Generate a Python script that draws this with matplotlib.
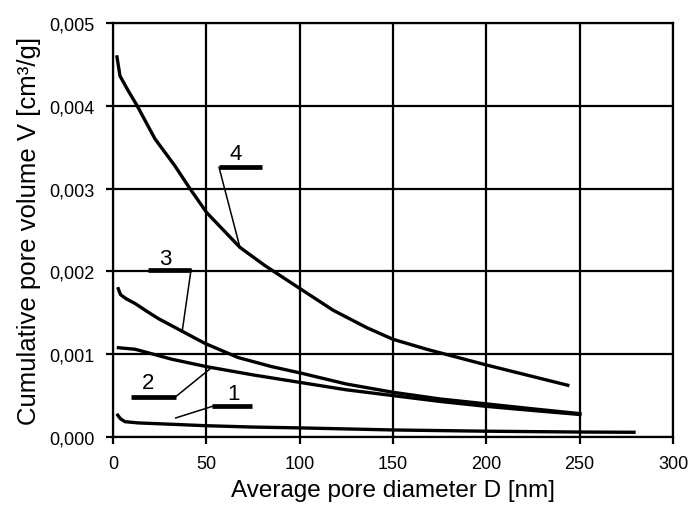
import matplotlib
matplotlib.use("Agg")
import matplotlib.pyplot as plt
from matplotlib.ticker import FuncFormatter, MultipleLocator

plt.rcParams['font.family'] = ['Liberation Sans', 'DejaVu Sans']

# Curve 1
D1 = [2, 4, 6.4, 13.6, 30, 49, 75, 100, 150, 200, 250, 280]
V1 = [0.00028, 0.00022, 0.000185, 0.00017, 0.000155, 0.000137, 0.00012, 0.00011, 0.000085, 0.00007, 0.00006, 0.000057]
# Curve 2
D2 = [2, 11.8, 31.4, 50, 75, 100, 125, 150, 175, 200, 225, 251]
V2 = [0.00108, 0.00106, 0.00094, 0.00085, 0.00075, 0.00066, 0.00057, 0.0005, 0.00043, 0.00037, 0.00032, 0.00027]
# Curve 3
D3 = [2.5, 4, 7, 12, 18, 24.3, 36.8, 49.3, 67, 85, 101, 125, 150, 175, 200, 225, 251]
V3 = [0.00181, 0.00172, 0.00167, 0.00161, 0.00152, 0.00143, 0.00128, 0.00113, 0.00096, 0.00085, 0.00077, 0.00064, 0.00054, 0.00046, 0.0004, 0.00034, 0.00028]
# Curve 4
D4 = [2, 3.75, 8.2, 12.7, 22.5, 33, 41.2, 50.2, 68, 81.4, 101, 118, 136, 150, 168, 200, 244.5]
V4 = [0.00461, 0.00436, 0.00418, 0.00401, 0.0036, 0.00328, 0.0030, 0.00271, 0.00229, 0.00207, 0.00178, 0.00153, 0.00132, 0.00118, 0.00106, 0.00087, 0.00062]

labels = ['1', '2', '3', '4']
# label annotation geometry: (text D, text V, bar D start, bar D end, bar V, leader from D, leader to D, leader to V)
ann = {
    '4': (65.8, 0.00342, 56.8, 80.0, 0.003257, 56.8, 68.0, 0.00229),
    '3': (27.9, 0.00216, 18.9, 41.8, 0.00202, 41.8, 37.1, 0.00128),
    '2': (18.8, 0.00066, 9.6, 33.6, 0.000487, 33.6, 52.9, 0.00084),
    '1': (64.5, 0.000523, 53.2, 74.6, 0.00037, 53.2, 33.6, 0.00023),
}

fig = plt.figure(figsize=(6.88, 5.10), dpi=100)
ax = fig.add_axes([113/688, 1-438/510, 560/688, 414/510])

for D, V in [(D1, V1), (D2, V2), (D3, V3), (D4, V4)]:
    ax.plot(D, V, color='black', lw=2.4, solid_capstyle='butt', zorder=3)

for lab in labels:
    tx, ty, b0, b1, by, lx0, lx1, ly1 = ann[lab]
    ax.text(tx, ty, lab, fontsize=16, ha='center', va='center', zorder=4)
    ax.plot([b0, b1], [by, by], color='black', lw=3.4, solid_capstyle='butt', zorder=4)
    ax.plot([lx0, lx1], [by, ly1], color='black', lw=1.1, zorder=4)

ax.set_xlim(0, 300)
ax.set_ylim(0, 0.005)
ax.xaxis.set_major_locator(MultipleLocator(50))
ax.yaxis.set_major_locator(MultipleLocator(0.001))
ax.yaxis.set_major_formatter(FuncFormatter(lambda v, p: f"{v:.3f}".replace('.', ',')))
ax.grid(True, color='black', lw=1.6)
ax.set_axisbelow(True)
for s in ax.spines.values():
    s.set_linewidth(1.6)
    s.set_color('black')
ax.tick_params(direction='out', length=5, width=1.6, labelsize=13, pad=8)

ax.set_xlabel('Average pore diameter D [nm]', fontsize=17.5, labelpad=5)
ax.set_ylabel('Cumulative pore volume V [cm³/g]', fontsize=18.5, labelpad=6)

fig.savefig('out.png', dpi=100)
